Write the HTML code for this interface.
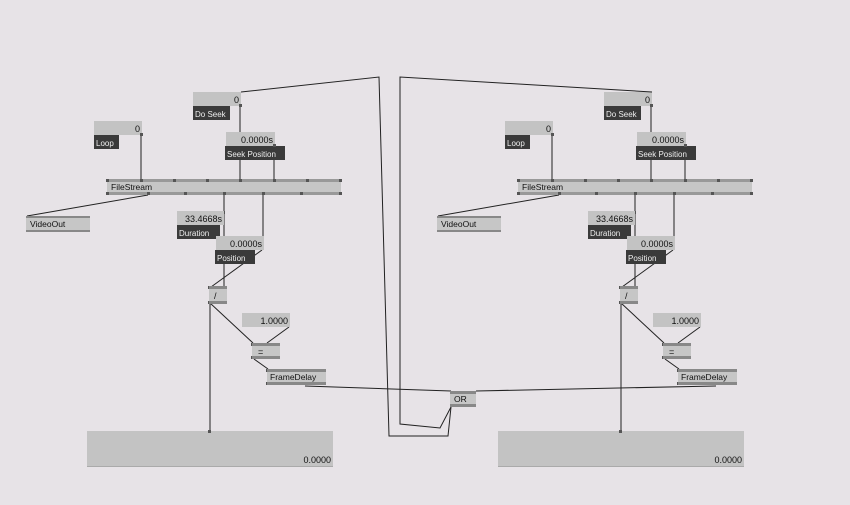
<!DOCTYPE html>
<html><head><meta charset="utf-8"><style>
html,body{margin:0;padding:0;background:#e7e3e7;}
svg{display:block;font-family:"Liberation Sans",sans-serif;}
</style></head><body>
<svg width="850" height="505" viewBox="0 0 850 505" xmlns="http://www.w3.org/2000/svg">
<rect width="850" height="505" fill="#e7e3e7"/>
<defs>
<g id="p">
  <g stroke="#222" stroke-width="1" fill="none">
    <line x1="141" y1="135" x2="141" y2="180"/>
    <line x1="240" y1="106" x2="240" y2="180"/>
    <line x1="274" y1="146" x2="274" y2="180"/>
    <line x1="148" y1="195" x2="27" y2="216"/>
    <line x1="224" y1="195" x2="224" y2="287"/>
    <line x1="263" y1="195" x2="263" y2="237"/>
    <line x1="262" y1="250" x2="211" y2="287"/>
    <line x1="210" y1="303" x2="210" y2="432"/>
    <line x1="210" y1="303" x2="253" y2="343"/>
    <line x1="289" y1="327" x2="267" y2="343"/>
    <line x1="254" y1="359" x2="268" y2="369"/>
  </g>
  <rect x="193" y="92" width="48" height="14" fill="#c3c3c3"/>
  <text x="239" y="103" font-size="9" text-anchor="end" fill="#111">0</text>
  <rect x="193" y="106" width="37" height="14" fill="#3a3a3a"/>
  <text x="195" y="117" font-size="8" fill="#eee">Do Seek</text>
  <rect x="94" y="121" width="48" height="14" fill="#c3c3c3"/>
  <text x="140" y="132" font-size="9" text-anchor="end" fill="#111">0</text>
  <rect x="94" y="135" width="25" height="14" fill="#3a3a3a"/>
  <text x="96" y="146" font-size="8" fill="#eee">Loop</text>
  <rect x="226" y="132" width="49" height="14" fill="#c3c3c3"/>
  <text x="273" y="143" font-size="9" text-anchor="end" fill="#111">0.0000s</text>
  <rect x="225" y="146" width="60" height="14" fill="#3a3a3a"/>
  <text x="227" y="157" font-size="8" fill="#eee">Seek Position</text>
  <rect x="107" y="179" width="234" height="16" fill="#c6c6c6"/>
  <rect x="107" y="179" width="234" height="3" fill="#999"/>
  <rect x="107" y="192" width="234" height="3" fill="#999"/>
  <text x="111" y="190" font-size="8.5" fill="#111">FileStream</text>
  <g fill="#555">
    <rect x="106" y="179" width="3" height="3"/><rect x="140" y="179" width="3" height="3"/><rect x="173" y="179" width="3" height="3"/><rect x="206" y="179" width="3" height="3"/><rect x="239" y="179" width="3" height="3"/><rect x="273" y="179" width="3" height="3"/><rect x="306" y="179" width="3" height="3"/><rect x="339" y="179" width="3" height="3"/>
    <rect x="106" y="192" width="3" height="3"/><rect x="147" y="192" width="3" height="3"/><rect x="184" y="192" width="3" height="3"/><rect x="223" y="192" width="3" height="3"/><rect x="262" y="192" width="3" height="3"/><rect x="300" y="192" width="3" height="3"/><rect x="339" y="192" width="3" height="3"/>
    <rect x="140" y="133" width="3" height="3"/><rect x="239" y="104" width="3" height="3"/><rect x="273" y="144" width="3" height="3"/>
    <rect x="222" y="211" width="3" height="3"/><rect x="261" y="236" width="3" height="3"/>
    <rect x="208" y="286" width="3" height="3"/><rect x="223" y="286" width="3" height="3"/><rect x="208" y="301" width="3" height="3"/>
    <rect x="251" y="343" width="3" height="3"/><rect x="265" y="343" width="3" height="3"/><rect x="251" y="356" width="3" height="3"/>
    <rect x="266" y="369" width="3" height="3"/><rect x="266" y="382" width="3" height="3"/>
  </g>
  <rect x="26" y="216" width="64" height="16" fill="#c6c6c6"/>
  <rect x="26" y="216" width="64" height="2" fill="#888"/>
  <rect x="26" y="230" width="64" height="2" fill="#888"/>
  <text x="30" y="227" font-size="8.5" fill="#111">VideoOut</text>
  <rect x="177" y="211" width="47" height="14" fill="#c3c3c3"/>
  <text x="222" y="222" font-size="9" text-anchor="end" fill="#111">33.4668s</text>
  <rect x="177" y="225" width="43" height="14" fill="#3a3a3a"/>
  <text x="179" y="236" font-size="8" fill="#eee">Duration</text>
  <rect x="216" y="236" width="48" height="14" fill="#c3c3c3"/>
  <text x="262" y="247" font-size="9" text-anchor="end" fill="#111">0.0000s</text>
  <rect x="215" y="250" width="40" height="14" fill="#3a3a3a"/>
  <text x="217" y="261" font-size="8" fill="#eee">Position</text>
  <rect x="209" y="286" width="18" height="18" fill="#c6c6c6"/>
  <rect x="209" y="286" width="18" height="3" fill="#888"/>
  <rect x="209" y="301" width="18" height="3" fill="#888"/>
  <text x="214" y="299" font-size="9" fill="#111">/</text>
  <rect x="242" y="313" width="48" height="14" fill="#c3c3c3"/>
  <text x="288" y="324" font-size="9" text-anchor="end" fill="#111">1.0000</text>
  <rect x="252" y="343" width="28" height="16" fill="#c6c6c6"/>
  <rect x="252" y="343" width="28" height="3" fill="#888"/>
  <rect x="252" y="356" width="28" height="3" fill="#888"/>
  <text x="258" y="355" font-size="9" fill="#111">=</text>
  <rect x="267" y="369" width="59" height="16" fill="#c6c6c6"/>
  <rect x="267" y="369" width="59" height="3" fill="#888"/>
  <rect x="267" y="382" width="59" height="3" fill="#888"/>
  <text x="270" y="380" font-size="8.5" fill="#111">FrameDelay</text>
  <rect x="87" y="431" width="246" height="36" fill="#c3c3c3"/>
  <rect x="87" y="466" width="246" height="1" fill="#aaa"/>
  <text x="331" y="463" font-size="9" text-anchor="end" fill="#111">0.0000</text>
  <rect x="208" y="430" width="3" height="3" fill="#555"/>
</g>
</defs>
<use href="#p"/>
<use href="#p" transform="translate(411,0)"/>
<g stroke="#222" stroke-width="1" fill="none">
  <polyline points="241,92 379,77 389,436 448,436 451,407"/>
  <polyline points="652,92 400,77 400,424 440,428 451,407"/>
  <polyline points="305,386 451,391"/>
  <polyline points="716,386 476,391"/>
</g>
<rect x="450" y="391" width="26" height="16" fill="#c6c6c6"/>
<rect x="450" y="391" width="26" height="3" fill="#888"/>
<rect x="450" y="404" width="26" height="3" fill="#888"/>
<text x="454" y="402" font-size="8.5" fill="#111">OR</text>
</svg>
</body></html>
